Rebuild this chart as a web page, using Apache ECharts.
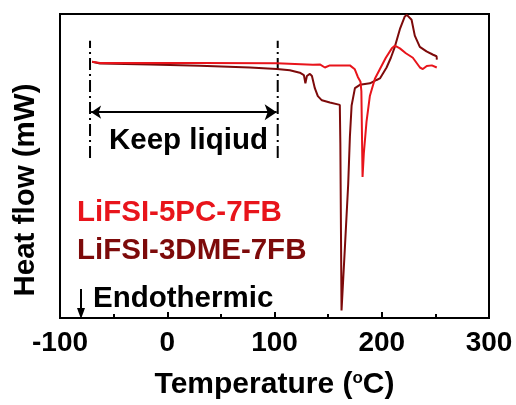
<!DOCTYPE html>
<html>
<head>
<meta charset="utf-8">
<script src="https://cdn.jsdelivr.net/npm/echarts@6/dist/echarts.min.js"></script>
<style>html,body{margin:0;padding:0;background:#fff;}#chart{width:516px;height:405px;}</style>
</head>
<body>
<div id="chart"></div>
<script>
// Temperature (°C) and heat flow (arbitrary units, 0 = bottom, 100 = top of frame)
const tempPC = [-70.1, -62.7, -25.4, 30.5, 102.2, 135.8, 142.3, 147.0, 151.6, 170.3, 174.9, 177.7, 180.2, 181.0, 182.1, 183.3, 185.8, 188.9, 193.6, 198.2, 203.8, 209.4, 212.2, 216.9, 222.5, 229.0, 235.6, 238.3, 242.0, 246.7, 251.3];
const heatPC = [84.3, 83.9, 83.9, 83.9, 83.8, 83.3, 83.4, 82.4, 83.1, 83.1, 81.8, 79.3, 77.7, 74.6, 46.4, 54.2, 64.6, 73.0, 78.7, 81.8, 85.6, 88.7, 89.6, 88.7, 87.1, 85.6, 82.4, 81.9, 82.9, 83.1, 82.4];

const tempDME = [-70.1, -62.7, -16.1, 30.5, 77.1, 102.2, 114.3, 123.6, 127.4, 128.8, 130.2, 133.0, 134.9, 137.6, 140.4, 144.2, 151.6, 160.9, 161.4, 162.5, 165.6, 168.7, 170.3, 171.9, 175.0, 179.6, 189.0, 195.2, 198.3, 204.5, 208.5, 212.2, 216.9, 221.5, 223.4, 227.8, 230.8, 235.5, 241.7, 247.9, 251.1, 251.4];
const heatDME = [84.3, 83.7, 83.4, 83.0, 82.4, 81.9, 81.5, 80.7, 79.9, 77.2, 79.6, 80.3, 79.6, 75.6, 73.0, 71.6, 70.9, 70.1, 57.4, 2.5, 22.9, 43.9, 59.6, 69.9, 75.6, 76.7, 77.2, 78.3, 78.8, 82.4, 85.6, 89.2, 95.0, 99.2, 99.7, 98.1, 92.9, 89.2, 87.7, 86.6, 86.1, 85.0];

const xTicks = [-100, 0, 100, 200, 300];
const liquidRange = [-72, 103];      // dash-dot marker positions (°C)
const markerSpan = [52.6, 91.2];     // vertical extent of markers
const arrowLevel = 67.7;

const seriesNames = ['LiFSI-5PC-7FB', 'LiFSI-3DME-7FB'];
const RED = '#e8141b';
const DARK = '#7d0a0a';
const FONT = 'Liberation Sans, Arial, sans-serif';
const FS = 29.5;

const zip = (a, b) => a.map((v, i) => [v, b[i]]);

const chart = echarts.init(document.getElementById('chart'), null, {renderer: 'canvas'});
chart.setOption({
  animation: false,
  backgroundColor: '#fff',
  grid: {left: 60, right: 27, top: 14, bottom: 72, show: true, borderColor: '#000', borderWidth: 2, backgroundColor: 'transparent'},
  xAxis: {
    type: 'value', min: xTicks[0], max: xTicks[xTicks.length - 1], interval: 100,
    axisLine: {lineStyle: {color: '#000', width: 2}},
    axisTick: {inside: true, length: 6, lineStyle: {color: '#000', width: 2}},
    minorTick: {show: true, splitNumber: 2, length: 4, lineStyle: {color: '#000', width: 2}},
    axisLabel: {color: '#000', fontSize: 28, fontWeight: 'bold', fontFamily: FONT, margin: 11},
    splitLine: {show: false},
    name: '{t|Temperature (}{s|o}{t|C)}',
    nameLocation: 'middle', nameGap: 52,
    nameTextStyle: {rich: {
      t: {fontSize: 30, fontWeight: 'bold', fontFamily: FONT, color: '#000'},
      s: {fontSize: 17, fontWeight: 'bold', fontFamily: FONT, color: '#000', verticalAlign: 'top', padding: [0, 0, 12, 0]}
    }}
  },
  yAxis: {
    type: 'value', min: 0, max: 100,
    axisLine: {show: true, onZero: false, lineStyle: {color: '#000', width: 2}},
    axisTick: {show: false}, axisLabel: {show: false}, splitLine: {show: false}
  },
  series: [
    {name: seriesNames[1], type: 'line', data: zip(tempDME, heatDME), showSymbol: false, symbol: 'none',
     lineStyle: {color: DARK, width: 2}, z: 3},
    {name: seriesNames[0], type: 'line', data: zip(tempPC, heatPC), showSymbol: false, symbol: 'none',
     lineStyle: {color: RED, width: 2}, z: 4},
    {type: 'line', data: [[liquidRange[0], markerSpan[0]], [liquidRange[0], markerSpan[1]]], symbol: 'none',
     lineStyle: {color: '#000', width: 2, type: [12, 4, 2, 4]}, z: 2},
    {type: 'line', data: [[liquidRange[1], markerSpan[0]], [liquidRange[1], markerSpan[1]]], symbol: 'none',
     lineStyle: {color: '#000', width: 2, type: [12, 4, 2, 4]}, z: 2},
    {type: 'lines', coordinateSystem: 'cartesian2d', symbol: ['arrow', 'arrow'], symbolSize: [10, 12],
     data: [{coords: [[liquidRange[0] + 1, arrowLevel], [liquidRange[1] - 1, arrowLevel]]}],
     lineStyle: {color: '#000', width: 2, opacity: 1}, z: 2}
  ],
  graphic: [
    {type: 'text', left: 109, top: 126, style: {text: 'Keep liqiud', fontSize: FS, fontWeight: 'bold', fontFamily: FONT, fill: '#000'}},
    {type: 'text', left: 77, top: 198, style: {text: seriesNames[0], fontSize: FS, fontWeight: 'bold', fontFamily: FONT, fill: RED}},
    {type: 'text', left: 77, top: 236, style: {text: seriesNames[1], fontSize: FS, fontWeight: 'bold', fontFamily: FONT, fill: DARK}},
    {type: 'text', left: 93, top: 284, style: {text: 'Endothermic', fontSize: FS, fontWeight: 'bold', fontFamily: FONT, fill: '#000'}},
    {type: 'line', shape: {x1: 81, y1: 289, x2: 81, y2: 311}, style: {stroke: '#000', lineWidth: 2}},
    {type: 'polygon', shape: {points: [[77, 308], [85, 308], [81, 319]]}, style: {fill: '#000'}},
    {type: 'text', x: 26, y: 190, rotation: Math.PI / 2, style: {text: 'Heat flow (mW)', fontSize: FS, fontWeight: 'bold', fontFamily: FONT, fill: '#000', align: 'center', verticalAlign: 'middle'}}
  ]
});
</script>
</body>
</html>
